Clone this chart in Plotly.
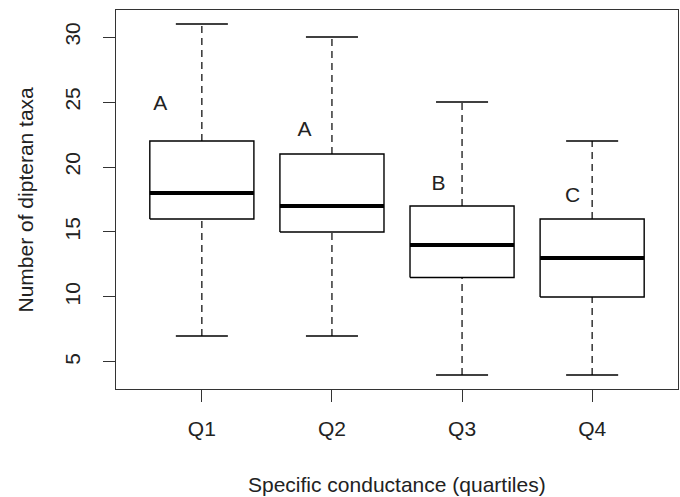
import plotly.graph_objects as go

categories = ["Q1", "Q2", "Q3", "Q4"]
lower_whisker = [7, 7, 4, 4]
q1_values = [16, 15, 11.5, 10]
medians = [18, 17, 14, 13]
q3_values = [22, 21, 17, 16]
upper_whisker = [31, 30, 25, 22]
group_letters = ["A", "A", "B", "C"]
letter_x = [0.68, 1.79, 2.82, 3.85]
letter_y = [24.8, 22.8, 18.6, 17.7]
y_ticks = [5, 10, 15, 20, 25, 30]
x_title = "Specific conductance (quartiles)"
y_title = "Number of dipteran taxa"

FONT = "Liberation Sans, Arial, sans-serif"
BOX_HALF = 0.4
CAP_HALF = 0.2
L, R, T, B = 116, 2, 10, 108

fig = go.Figure()
for i, cat in enumerate(categories):
    xc = i + 1
    fig.add_trace(go.Scatter(
        x=[xc, xc, None, xc, xc],
        y=[lower_whisker[i], q1_values[i], None, q3_values[i], upper_whisker[i]],
        mode="lines", line=dict(color="black", width=1.2, dash="7px,5px"),
        hoverinfo="skip", showlegend=False))
    fig.add_trace(go.Scatter(
        x=[xc - CAP_HALF, xc + CAP_HALF, None, xc - CAP_HALF, xc + CAP_HALF],
        y=[lower_whisker[i], lower_whisker[i], None, upper_whisker[i], upper_whisker[i]],
        mode="lines", line=dict(color="black", width=1.4),
        hoverinfo="skip", showlegend=False))
    fig.add_trace(go.Scatter(
        x=[xc - BOX_HALF, xc + BOX_HALF, xc + BOX_HALF, xc - BOX_HALF, xc - BOX_HALF],
        y=[q1_values[i], q1_values[i], q3_values[i], q3_values[i], q1_values[i]],
        mode="lines", line=dict(color="black", width=1.4),
        fill="toself", fillcolor="white",
        hoverinfo="skip", showlegend=False))
    fig.add_trace(go.Scatter(
        x=[xc - BOX_HALF, xc + BOX_HALF],
        y=[medians[i], medians[i]],
        mode="lines", line=dict(color="black", width=4),
        hoverinfo="skip", showlegend=False))

fig.add_trace(go.Scatter(
    x=letter_x, y=letter_y, mode="text", text=group_letters,
    textfont=dict(family=FONT, size=21, color="#222222"),
    hoverinfo="skip", showlegend=False))

fig.update_layout(
    width=680, height=497,
    margin=dict(l=L, r=R, t=T, b=B),
    paper_bgcolor="white", plot_bgcolor="white",
    font=dict(family=FONT, size=21, color="#222222"),
    annotations=[
        dict(text=x_title, xref="paper", yref="paper", x=0.5, y=-(484 - 389) / (497 - T - B),
             yanchor="middle", xanchor="center", showarrow=False,
             font=dict(family=FONT, size=21, color="#222222")),
        dict(text=y_title, xref="paper", yref="paper", x=-(116 - 25) / (680 - L - R), y=0.5,
             xanchor="center", yanchor="middle", textangle=-90, showarrow=False,
             font=dict(family=FONT, size=21, color="#222222")),
    ],
)
fig.update_xaxes(
    range=[0.34, 4.66], tickvals=[1, 2, 3, 4], ticktext=categories, automargin=False,
    showgrid=False, zeroline=False, showline=True, linecolor="#333333", linewidth=1.3,
    mirror=True, ticks="outside", ticklen=12, tickcolor="#333333", tickwidth=1.3,
    ticklabelstandoff=9,
)
fig.update_yaxes(
    range=[2.92, 32.08], tickvals=y_ticks, ticktext=[str(v) for v in y_ticks], automargin=False,
    showgrid=False, zeroline=False, showline=True, linecolor="#333333", linewidth=1.3,
    mirror=True, ticks="outside", ticklen=12, tickcolor="#333333", tickwidth=1.3,
    tickangle=-90, ticklabelstandoff=14,
)

fig.write_html("out.html", config={"displayModeBar": False},
               post_script="document.body.style.margin='0';document.body.style.overflow='hidden';")
